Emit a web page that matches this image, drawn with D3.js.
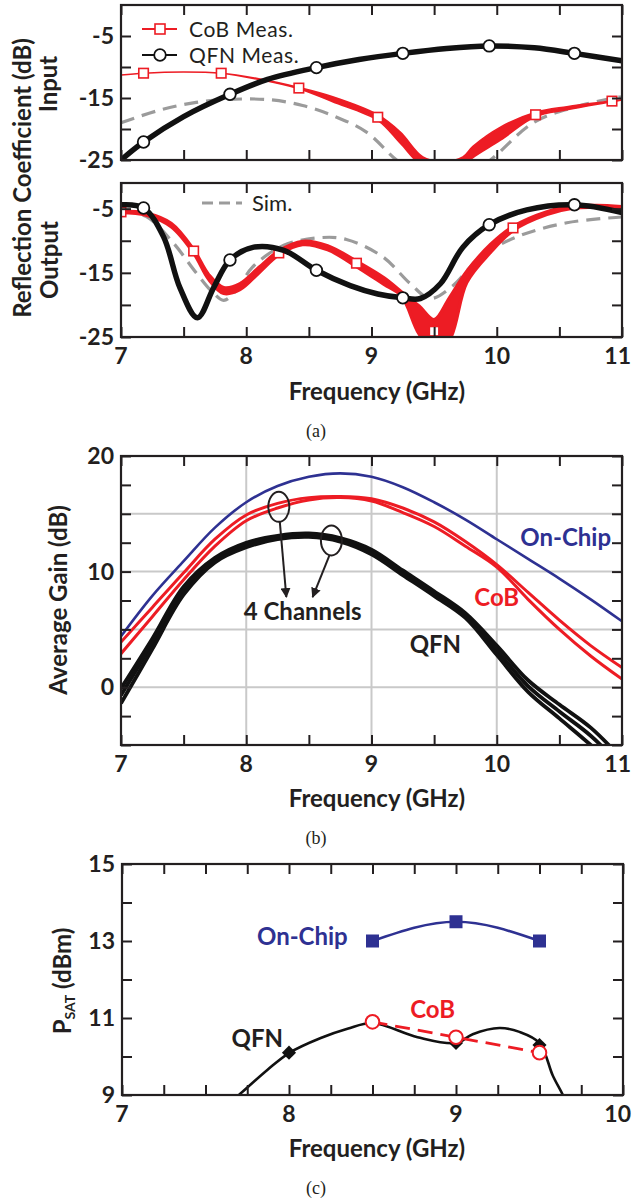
<!DOCTYPE html>
<html><head><meta charset="utf-8">
<script src="https://cdn.jsdelivr.net/npm/d3@7"></script>
<style>
body{margin:0;background:#fff;}
svg text{font-family:Lato,"Open Sans",sans-serif;}
svg text.cap{font-family:"Liberation Serif","DejaVu Serif",serif;}
</style></head><body>
<svg id="fig" width="633" height="1200"></svg>
<script>
// ---------- (a) input reflection ----------
const cobInFreq = [7.0, 7.18, 7.5, 7.8, 8.1, 8.42, 8.69, 9.05, 9.23, 9.41, 9.57, 9.73, 9.81, 10.03, 10.31, 10.56, 10.92, 11.0];
const cobInHi   = [-11.3, -11.0, -10.8, -11.0, -11.9, -13.3, -14.8, -17.7, -20.5, -24.5, -25.3, -24.5, -22.8, -19.7, -17.3, -16.4, -15.5, -15.3];
const cobInLo   = [-11.3, -11.0, -10.8, -11.0, -12.0, -13.5, -15.6, -18.6, -22.3, -26.0, -26.5, -26.0, -24.6, -21.8, -18.0, -16.9, -15.6, -15.3];
const cobInMarkFreq = [7.18, 7.8, 8.42, 9.05, 10.31, 10.92];
const cobInMarkVal  = [-11.0, -11.0, -13.4, -18.1, -17.7, -15.5];

const qfnInFreq = [7.0, 7.18, 7.5, 7.87, 8.17, 8.56, 8.9, 9.25, 9.6, 9.94, 10.3, 10.62, 11.0];
const qfnInVal  = [-25.0, -22.1, -18.0, -14.4, -12.0, -10.1, -8.8, -7.8, -7.0, -6.6, -6.9, -7.8, -9.0];
const qfnInMarkFreq = [7.18, 7.87, 8.56, 9.25, 9.94, 10.62];
const qfnInMarkVal  = [-22.1, -14.4, -10.1, -7.8, -6.6, -7.8];

const simInFreq = [7.0, 7.3, 7.6, 7.9, 8.2, 8.45, 8.7, 8.96, 9.2, 9.45, 9.7, 9.95, 10.29, 10.6, 10.93, 11.0];
const simInVal  = [-19.0, -17.0, -15.7, -15.2, -15.3, -16.2, -17.9, -20.5, -25.0, -28.5, -28.5, -25.0, -19.0, -16.6, -15.0, -14.8];

// ---------- (a) output reflection ----------
const cobOutFreq = [7.0, 7.2, 7.4, 7.58, 7.7, 7.82, 7.95, 8.1, 8.26, 8.45, 8.65, 8.88, 9.1, 9.24, 9.38, 9.5, 9.62, 9.76, 9.95, 10.13, 10.4, 10.61, 10.8, 11.0];
const cobOutHi   = [-5.4, -5.7, -7.3, -11.4, -15.3, -17.3, -16.7, -14.2, -11.6, -10.1, -10.8, -13.2, -15.8, -18.0, -20.2, -22.3, -19.0, -14.8, -10.6, -7.8, -5.5, -4.6, -4.5, -4.7];
const cobOutLo   = [-5.6, -6.0, -7.8, -11.9, -16.0, -18.2, -17.6, -15.0, -12.2, -10.6, -11.4, -14.0, -16.8, -18.6, -24.5, -27.0, -25.5, -16.5, -11.8, -8.4, -5.9, -4.9, -4.8, -5.0];
const cobOutMarkFreq = [7.0, 7.58, 8.26, 8.88, 9.5, 10.13];
const cobOutMarkVal  = [-5.5, -11.6, -11.9, -13.5, -24.1, -8.0];

const qfnOutFreq = [7.0, 7.18, 7.34, 7.47, 7.61, 7.74, 7.87, 8.06, 8.3, 8.56, 8.83, 9.05, 9.25, 9.39, 9.55, 9.73, 9.94, 10.24, 10.62, 11.0];
const qfnOutVal  = [-4.4, -4.9, -9.4, -17.3, -22.0, -17.3, -13.0, -11.0, -11.5, -14.6, -17.0, -18.3, -18.9, -19.0, -16.7, -11.0, -7.5, -5.2, -4.4, -5.6];
const qfnOutMarkFreq = [7.18, 7.87, 8.56, 9.25, 9.94, 10.62];
const qfnOutMarkVal  = [-4.9, -13.0, -14.6, -18.9, -7.5, -4.4];

const simOutFreq = [7.0, 7.2, 7.42, 7.6, 7.74, 7.82, 7.93, 8.05, 8.3, 8.6, 8.8, 9.09, 9.31, 9.47, 9.65, 9.87, 10.16, 10.56, 11.0];
const simOutVal  = [-5.3, -6.2, -10.4, -15.0, -18.2, -19.3, -17.5, -14.1, -10.7, -9.5, -9.8, -12.5, -16.7, -19.0, -17.0, -12.5, -9.4, -7.2, -6.3];

// ---------- (b) average gain ----------
const gainFreq  = [7.0, 7.25, 7.5, 7.75, 8.0, 8.25, 8.5, 8.75, 9.0, 9.25, 9.5, 9.75, 10.0, 10.25, 10.5, 10.75, 11.0];
const onChipGain = [4.4, 7.9, 10.9, 13.8, 16.0, 17.4, 18.2, 18.5, 18.2, 17.3, 16.0, 14.5, 12.8, 11.1, 9.4, 7.6, 5.7];
const cobGainA   = [3.9, 6.9, 9.9, 12.8, 14.9, 15.9, 16.4, 16.5, 16.3, 15.5, 14.3, 12.6, 10.6, 8.2, 5.8, 3.6, 1.7];
const cobGainB   = [2.9, 6.1, 9.3, 12.2, 14.4, 15.5, 16.2, 16.4, 16.1, 15.1, 13.9, 12.2, 10.4, 7.6, 5.0, 2.7, 0.7];
const qfnGain1   = [-0.1, 4.2, 8.7, 11.2, 12.5, 13.1, 13.3, 12.9, 11.9, 10.1, 8.3, 6.4, 3.6, 0.6, -1.5, -3.5, -6.2];
const qfnGain2   = [-0.7, 3.8, 8.4, 11.0, 12.3, 13.0, 13.2, 12.8, 11.7, 9.9, 8.1, 6.2, 3.2, 0.1, -2.1, -4.2, -6.9];
const qfnGain3   = [-1.4, 3.3, 8.0, 10.8, 12.1, 12.8, 13.0, 12.6, 11.5, 9.7, 7.9, 6.0, 2.8, -0.4, -2.7, -5.0, -7.6];

// ---------- (c) saturated output power ----------
const psatFreq   = [8.5, 9.0, 9.5];
const onChipPsat = [13.0, 13.5, 13.0];
const cobPsat    = [10.9, 10.5, 10.1];
const qfnPsatFreq = [8.0, 8.5, 9.0, 9.5];
const qfnPsat     = [10.1, 10.9, 10.35, 10.3];
const qfnFitFreq = [7.62, 7.70, 7.87, 8.0, 8.19, 8.35, 8.5, 8.77, 9.0, 9.1, 9.26, 9.38, 9.5, 9.58, 9.64, 9.68];
const qfnFitPsat = [8.7, 9.0, 9.65, 10.09, 10.48, 10.72, 10.87, 10.5, 10.35, 10.58, 10.74, 10.64, 10.35, 9.5, 9.0, 8.6];

const xTicksA = [7, 7.5, 8, 8.5, 9, 9.5, 10, 10.5, 11];
const xLabelsA = [7, 8, 9, 10, 11];
const xTicksC = d3.range(7, 10.001, 0.25);
const xLabelsC = [7, 8, 9, 10];

const INK = "#231f20", RED = "#ed1c24", BLUE = "#2e3192", GRAY = "#9b9b9b", GRID = "#c9c9c9";
const TICK_FONT = 23, TITLE_FONT = 24, LEGEND_FONT = 21;
const W = 633;
const svg = d3.select("#fig");
const defs = svg.append("defs");

const smooth = d3.curveCatmullRom.alpha(0.5);
const pts = (f, v) => d3.zip(f, v);

function addClip(id, x, y) {
  const [x0, x1] = x.range(), [y0, y1] = y.range();
  defs.append("clipPath").attr("id", id).append("rect")
    .attr("x", x0).attr("y", y1).attr("width", x1 - x0).attr("height", y0 - y1);
  return svg.append("g").attr("clip-path", `url(#${id})`);
}

function lineGen(x, y, curve) {
  return d3.line().x(d => x(d[0])).y(d => y(d[1])).curve(curve || smooth);
}

function frame(x, y, o) {
  const g = svg.append("g");
  const [xl, xr] = x.range(), [yb, yt] = y.range();
  const len = o.tickLen || 10;
  const strip = s => s.call(a => a.select(".domain").remove());
  const blank = () => "";
  g.append("g").attr("transform", `translate(0,${yb})`)
    .call(d3.axisBottom(x).tickValues(o.xTicks).tickSizeInner(-len).tickSizeOuter(0).tickFormat(blank)).call(strip);
  g.append("g").attr("transform", `translate(0,${yt})`)
    .call(d3.axisTop(x).tickValues(o.xTicks).tickSizeInner(-len).tickSizeOuter(0).tickFormat(blank)).call(strip);
  g.append("g").attr("transform", `translate(${xl},0)`)
    .call(d3.axisLeft(y).tickValues(o.yTicks).tickSizeInner(-len).tickSizeOuter(0).tickFormat(blank)).call(strip);
  g.append("g").attr("transform", `translate(${xr},0)`)
    .call(d3.axisRight(y).tickValues(o.yTicks).tickSizeInner(-len).tickSizeOuter(0).tickFormat(blank)).call(strip);
  g.selectAll(".tick line").attr("stroke", INK).attr("stroke-width", 2);
  g.append("rect").attr("x", xl).attr("y", yt).attr("width", xr - xl).attr("height", yb - yt)
    .attr("fill", "none").attr("stroke", INK).attr("stroke-width", 2.2);
  if (o.yLabels) {
    g.selectAll("text.yl").data(o.yLabels).join("text").attr("class", "yl")
      .attr("x", xl - 7).attr("y", d => y(d)).attr("dy", "0.36em")
      .attr("text-anchor", "end").attr("font-size", TICK_FONT).attr("font-weight", 700).attr("fill", INK)
      .text(d => String(d));
  }
  if (o.xLabels) {
    g.selectAll("text.xl").data(o.xLabels).join("text").attr("class", "xl")
      .attr("x", d => x(d)).attr("y", yb + 19).attr("dy", "0.36em")
      .attr("text-anchor", "middle").attr("font-size", TICK_FONT).attr("font-weight", 700).attr("fill", INK)
      .text(d => String(d))
      .each(function () {
        // keep the right-most label inside the page
        const b = this.getBBox();
        if (b.x + b.width > W - 2) d3.select(this).attr("x", +d3.select(this).attr("x") - (b.x + b.width - (W - 2)));
      });
  }
}

function boldText(x, y, str, color, size, anchor) {
  return svg.append("text").attr("x", x).attr("y", y).attr("dy", "0.36em")
    .attr("text-anchor", anchor || "middle").attr("font-size", size || TITLE_FONT).attr("font-weight", 700)
    .attr("fill", color || INK).text(str);
}

function caption(x, y, str) {
  svg.append("text").attr("class", "cap").attr("x", x).attr("y", y).attr("dy", "0.36em").attr("text-anchor", "middle")
    .attr("font-size", 18).attr("fill", INK).text(str);
}

function squares(g, x, y, f, v, size, fill, stroke, sw) {
  g.selectAll(null).data(d3.zip(f, v)).join("rect")
    .attr("x", d => x(d[0]) - size / 2).attr("y", d => y(d[1]) - size / 2)
    .attr("width", size).attr("height", size)
    .attr("fill", fill).attr("stroke", stroke).attr("stroke-width", sw);
}
function circles(g, x, y, f, v, r, fill, stroke, sw) {
  g.selectAll(null).data(d3.zip(f, v)).join("circle")
    .attr("cx", d => x(d[0])).attr("cy", d => y(d[1])).attr("r", r)
    .attr("fill", fill).attr("stroke", stroke).attr("stroke-width", sw);
}

// ================= Panel (a) =================
const xA = d3.scaleLinear().domain([7, 11]).range([121, 622]);
const yIn = d3.scaleLinear().domain([-25, 0]).range([160, 5]);
const yOut = d3.scaleLinear().domain([-25, -1]).range([337, 183]);

// input
{
  const g = addClip("clipIn", xA, yIn);
  const ln = lineGen(xA, yIn);
  g.append("path").attr("d", ln(pts(simInFreq, simInVal))).attr("fill", "none")
    .attr("stroke", GRAY).attr("stroke-width", 3.2).attr("stroke-dasharray", "14,8");
  const band = d3.area().x(d => xA(d[0])).y0(d => yIn(d[1])).y1(d => yIn(d[2])).curve(smooth);
  g.append("path").attr("d", band(d3.zip(cobInFreq, cobInLo, cobInHi))).attr("fill", RED)
    .attr("stroke", RED).attr("stroke-width", 1.6);
  squares(g, xA, yIn, cobInMarkFreq, cobInMarkVal, 9.5, "#fff", RED, 1.6);
  g.append("path").attr("d", ln(pts(qfnInFreq, qfnInVal))).attr("fill", "none")
    .attr("stroke", "#111").attr("stroke-width", 5.5);
  circles(g, xA, yIn, qfnInMarkFreq, qfnInMarkVal, 5.8, "#fff", "#111", 1.8);
  frame(xA, yIn, { xTicks: xTicksA, yTicks: [-25, -20, -15, -10, -5], yLabels: [-5, -15, -25] });
}
// output
{
  const g = addClip("clipOut", xA, yOut);
  const ln = lineGen(xA, yOut);
  g.append("path").attr("d", ln(pts(simOutFreq, simOutVal))).attr("fill", "none")
    .attr("stroke", GRAY).attr("stroke-width", 3.2).attr("stroke-dasharray", "14,8");
  const band = d3.area().x(d => xA(d[0])).y0(d => yOut(d[1])).y1(d => yOut(d[2])).curve(smooth);
  g.append("path").attr("d", band(d3.zip(cobOutFreq, cobOutLo, cobOutHi))).attr("fill", RED)
    .attr("stroke", RED).attr("stroke-width", 3.5).attr("stroke-linejoin", "round");
  squares(g, xA, yOut, cobOutMarkFreq, cobOutMarkVal, 9.5, "#fff", RED, 1.6);
  g.append("path").attr("d", ln(pts(qfnOutFreq, qfnOutVal))).attr("fill", "none")
    .attr("stroke", "#111").attr("stroke-width", 5.5);
  circles(g, xA, yOut, qfnOutMarkFreq, qfnOutMarkVal, 5.8, "#fff", "#111", 1.8);
  frame(xA, yOut, { xTicks: xTicksA, yTicks: [-25, -20, -15, -10, -5], yLabels: [-5, -15, -25], xLabels: xLabelsA });
}
// legend
{
  const lg = svg.append("g");
  lg.append("line").attr("x1", 142).attr("x2", 177).attr("y1", 29).attr("y2", 29).attr("stroke", RED).attr("stroke-width", 2);
  lg.append("rect").attr("x", 155).attr("y", 24).attr("width", 10).attr("height", 10).attr("fill", "#fff").attr("stroke", RED).attr("stroke-width", 1.6);
  lg.append("text").attr("x", 189).attr("y", 29).attr("dy", "0.36em").attr("font-size", LEGEND_FONT)
    .attr("letter-spacing", 0.6).attr("fill", INK).text("CoB Meas.");
  lg.append("line").attr("x1", 142).attr("x2", 177).attr("y1", 55).attr("y2", 55).attr("stroke", "#111").attr("stroke-width", 2);
  lg.append("circle").attr("cx", 160).attr("cy", 55).attr("r", 5.8).attr("fill", "#fff").attr("stroke", "#111").attr("stroke-width", 1.8);
  lg.append("text").attr("x", 189).attr("y", 55).attr("dy", "0.36em").attr("font-size", LEGEND_FONT)
    .attr("letter-spacing", 0.6).attr("fill", INK).text("QFN Meas.");
  lg.append("line").attr("x1", 202).attr("x2", 242).attr("y1", 203).attr("y2", 203).attr("stroke", GRAY).attr("stroke-width", 3.2).attr("stroke-dasharray", "11,6");
  lg.append("text").attr("x", 252).attr("y", 203).attr("dy", "0.36em").attr("font-size", LEGEND_FONT + 1).attr("fill", INK).text("Sim.");
}
boldText(22, 178, "Reflection Coefficient (dB)").attr("transform", "rotate(-90,22,178)");
boldText(48, 84, "Input").attr("transform", "rotate(-90,48,84)");
boldText(49, 260, "Output").attr("transform", "rotate(-90,49,260)");
boldText(377, 391, "Frequency (GHz)");
caption(316, 431, "(a)");

// ================= Panel (b) =================
const xB = d3.scaleLinear().domain([7, 11]).range([121, 622]);
const yB = d3.scaleLinear().domain([-5, 20]).range([745, 456]);
{
  const grid = svg.append("g");
  grid.selectAll(null).data([8, 9, 10]).join("line")
    .attr("x1", d => xB(d)).attr("x2", d => xB(d)).attr("y1", yB(-5)).attr("y2", yB(20))
    .attr("stroke", GRID).attr("stroke-width", 2);
  grid.selectAll(null).data([0, 5, 10, 15]).join("line")
    .attr("x1", xB(7)).attr("x2", xB(11)).attr("y1", d => yB(d)).attr("y2", d => yB(d))
    .attr("stroke", GRID).attr("stroke-width", 2);

  const g = addClip("clipB", xB, yB);
  const ln = lineGen(xB, yB);
  [qfnGain1, qfnGain2, qfnGain3].forEach(v =>
    g.append("path").attr("d", ln(pts(gainFreq, v))).attr("fill", "none").attr("stroke", "#111").attr("stroke-width", 3.8));
  [cobGainA, cobGainB].forEach(v =>
    g.append("path").attr("d", ln(pts(gainFreq, v))).attr("fill", "none").attr("stroke", RED).attr("stroke-width", 3));
  g.append("path").attr("d", ln(pts(gainFreq, onChipGain))).attr("fill", "none").attr("stroke", BLUE).attr("stroke-width", 2.6);

  frame(xB, yB, { xTicks: xTicksA, yTicks: d3.range(-5, 20.01, 2.5), yLabels: [0, 10, 20], xLabels: xLabelsA });

  // channel annotation
  defs.append("marker").attr("id", "arrow").attr("viewBox", "0 0 10 10").attr("refX", 9).attr("refY", 5)
    .attr("markerWidth", 10).attr("markerHeight", 10).attr("markerUnits", "userSpaceOnUse").attr("orient", "auto")
    .append("path").attr("d", "M0,0L10,5L0,10Z").attr("fill", INK);
  const ann = svg.append("g");
  const ell = [[8.26, 15.6, 8.32, 7.8], [8.68, 12.7, 8.53, 7.8]];
  ell.forEach(([f, v, tf, tv]) => {
    ann.append("ellipse").attr("cx", xB(f)).attr("cy", yB(v)).attr("rx", 10.5).attr("ry", 15)
      .attr("fill", "none").attr("stroke", INK).attr("stroke-width", 2);
    ann.append("line").attr("x1", xB(f) + (tf > f ? 1 : -2)).attr("y1", yB(v) + 15)
      .attr("x2", xB(tf)).attr("y2", yB(tv)).attr("stroke", INK).attr("stroke-width", 2)
      .attr("marker-end", "url(#arrow)");
  });
  boldText(xB(8.45), yB(6.6), "4 Channels");
  boldText(xB(10.55), yB(13.0), "On-Chip", BLUE);
  boldText(xB(10.0), yB(7.8), "CoB", RED);
  boldText(xB(9.51), yB(3.7), "QFN");
}
boldText(58, 600, "Average Gain (dB)").attr("transform", "rotate(-90,58,600)");
boldText(377, 798, "Frequency (GHz)");
caption(316, 838, "(b)");

// ================= Panel (c) =================
const xC = d3.scaleLinear().domain([7, 10]).range([122, 623]);
const yC = d3.scaleLinear().domain([9, 15]).range([1095, 864]);
{
  const g = addClip("clipC", xC, yC);
  g.append("path").attr("d", lineGen(xC, yC)(pts(qfnFitFreq, qfnFitPsat))).attr("fill", "none")
    .attr("stroke", "#111").attr("stroke-width", 2.6);
  g.selectAll(null).data(d3.zip(qfnPsatFreq, qfnPsat)).join("path")
    .attr("d", d3.symbol(d3.symbolSquare, 100)())
    .attr("transform", d => `translate(${xC(d[0])},${yC(d[1])}) rotate(45)`).attr("fill", "#111");
  g.append("path").attr("d", lineGen(xC, yC, d3.curveLinear)(pts(psatFreq, cobPsat))).attr("fill", "none")
    .attr("stroke", RED).attr("stroke-width", 2.8).attr("stroke-dasharray", "15,8");
  circles(g, xC, yC, psatFreq, cobPsat, 6.8, "#fff", RED, 2);
  g.append("path").attr("d", lineGen(xC, yC, d3.curveNatural)(pts(psatFreq, onChipPsat))).attr("fill", "none")
    .attr("stroke", BLUE).attr("stroke-width", 2.6);
  squares(g, xC, yC, psatFreq, onChipPsat, 13, BLUE, BLUE, 0);
  frame(xC, yC, { xTicks: xTicksC, yTicks: [9, 10, 11, 12, 13, 14, 15], yLabels: [9, 11, 13, 15], xLabels: xLabelsC });
  boldText(xC(8.08), yC(13.13), "On-Chip", BLUE);
  boldText(xC(8.86), yC(11.23), "CoB", RED);
  boldText(xC(7.81), yC(10.48), "QFN");
}
{
  const t = svg.append("text").attr("x", 62).attr("y", 981).attr("dy", "0.36em").attr("text-anchor", "middle")
    .attr("font-size", TITLE_FONT).attr("font-weight", 700).attr("fill", INK).attr("transform", "rotate(-90,62,981)");
  t.append("tspan").text("P");
  t.append("tspan").attr("font-size", 14).attr("dy", 4).text("SAT");
  t.append("tspan").attr("dy", -4).text(" (dBm)");
}
boldText(377, 1148, "Frequency (GHz)");
caption(316, 1188, "(c)");
</script>
</body></html>
